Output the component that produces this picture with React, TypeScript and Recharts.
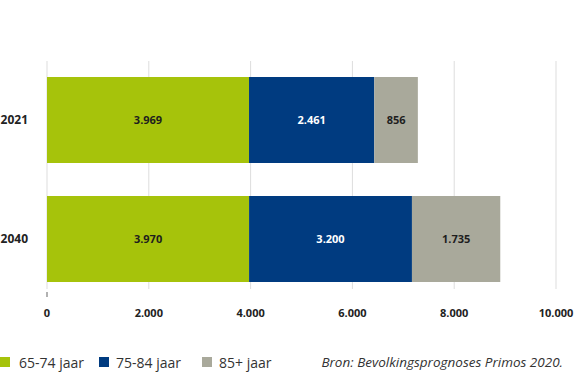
import React from "react";
import { Bar, BarChart, CartesianGrid, LabelList, Legend, XAxis, YAxis } from "recharts";

const YEARS = ["2021", "2040"];
const AGE_65_74 = [3969, 3970];
const AGE_75_84 = [2461, 3200];
const AGE_85_PLUS = [856, 1735];
const X_TICKS = [0, 2000, 4000, 6000, 8000, 10000];

const SERIES = [
  { key: "a", name: "65-74 jaar", color: "#a6c30b", label: "#1e1e1e" },
  { key: "b", name: "75-84 jaar", color: "#003b80", label: "#ffffff" },
  { key: "c", name: "85+ jaar", color: "#a9a99b", label: "#1e1e1e" },
];

const SOURCE = "Bron: Bevolkingsprognoses Primos 2020.";

const data = YEARS.map((year, i) => ({
  year,
  a: AGE_65_74[i],
  b: AGE_75_84[i],
  c: AGE_85_PLUS[i],
}));

const FONT = "'Open Sans', sans-serif";
const fmt = (v: number) => String(v).replace(/\B(?=(\d{3})+(?!\d))/g, ".");

function XTick(props: any) {
  const { x, y, payload } = props;
  return (
    <g>
      {payload.value === 0 && <line x1={x} x2={x} y1={y - 17} y2={y - 12} stroke="#999" strokeWidth={1.5} />}
      <text x={x} y={y} dy="0.71em" textAnchor="middle" fill="#222" fontSize={11} fontWeight={700} fontFamily={FONT}>
        {fmt(payload.value)}
      </text>
    </g>
  );
}

function GridLine(props: any) {
  const { x1, x2, y1, y2 } = props;
  return <line key={props.key} x1={x1} x2={x2} y1={y1 + 1} y2={y2 - 9} stroke="#dddddd" strokeWidth={1} />;
}

const ITEM_WIDTHS = [99, 103, 100];

function LegendBox(props: any) {
  const payload = props.payload || [];
  return (
    <div style={{ display: "flex", alignItems: "center", height: 22, fontFamily: FONT, fontSize: 14, color: "#333" }}>
      {payload.map((p: any, i: number) => (
        <div key={p.value} style={{ display: "flex", alignItems: "center", width: ITEM_WIDTHS[i] }}>
          <span style={{ width: 10, height: 10, background: p.color, marginRight: i === 0 ? 9 : 7 }} />
          <span>{p.value}</span>
        </div>
      ))}
      <span style={{ marginLeft: "auto", marginRight: 12, fontStyle: "italic", fontSize: 13.5 }}>{SOURCE}</span>
    </div>
  );
}

export default function App() {
  return (
    <div style={{ position: "absolute", left: 0, top: 0 }}>
      <BarChart width={575} height={373} data={data} layout="vertical" barSize={86}
        margin={{ top: 60, right: 19, left: 0, bottom: 0 }}>
        <CartesianGrid horizontal={false} vertical={GridLine as any} />
        <XAxis type="number" domain={[0, 10000]} ticks={X_TICKS} height={53} tick={XTick}
          tickLine={false} axisLine={false} tickMargin={5} interval={0} />
        <YAxis type="category" dataKey="year" width={47} tickSize={0} tickMargin={19}
          tickLine={false} axisLine={false}
          tick={{ fill: "#222", fontSize: 12, fontWeight: 700, fontFamily: FONT }} />
        <Legend verticalAlign="bottom" content={LegendBox} wrapperStyle={{ left: 0, width: 575, bottom: 0 }} />
        {SERIES.map((s) => (
          <Bar key={s.key} dataKey={s.key} name={s.name} stackId="x" fill={s.color} isAnimationActive={false}>
            <LabelList dataKey={s.key} position="center" formatter={(v: any) => fmt(v)}
              fill={s.label} fontSize={11} fontWeight={700} fontFamily={FONT} />
          </Bar>
        ))}
      </BarChart>
    </div>
  );
}
